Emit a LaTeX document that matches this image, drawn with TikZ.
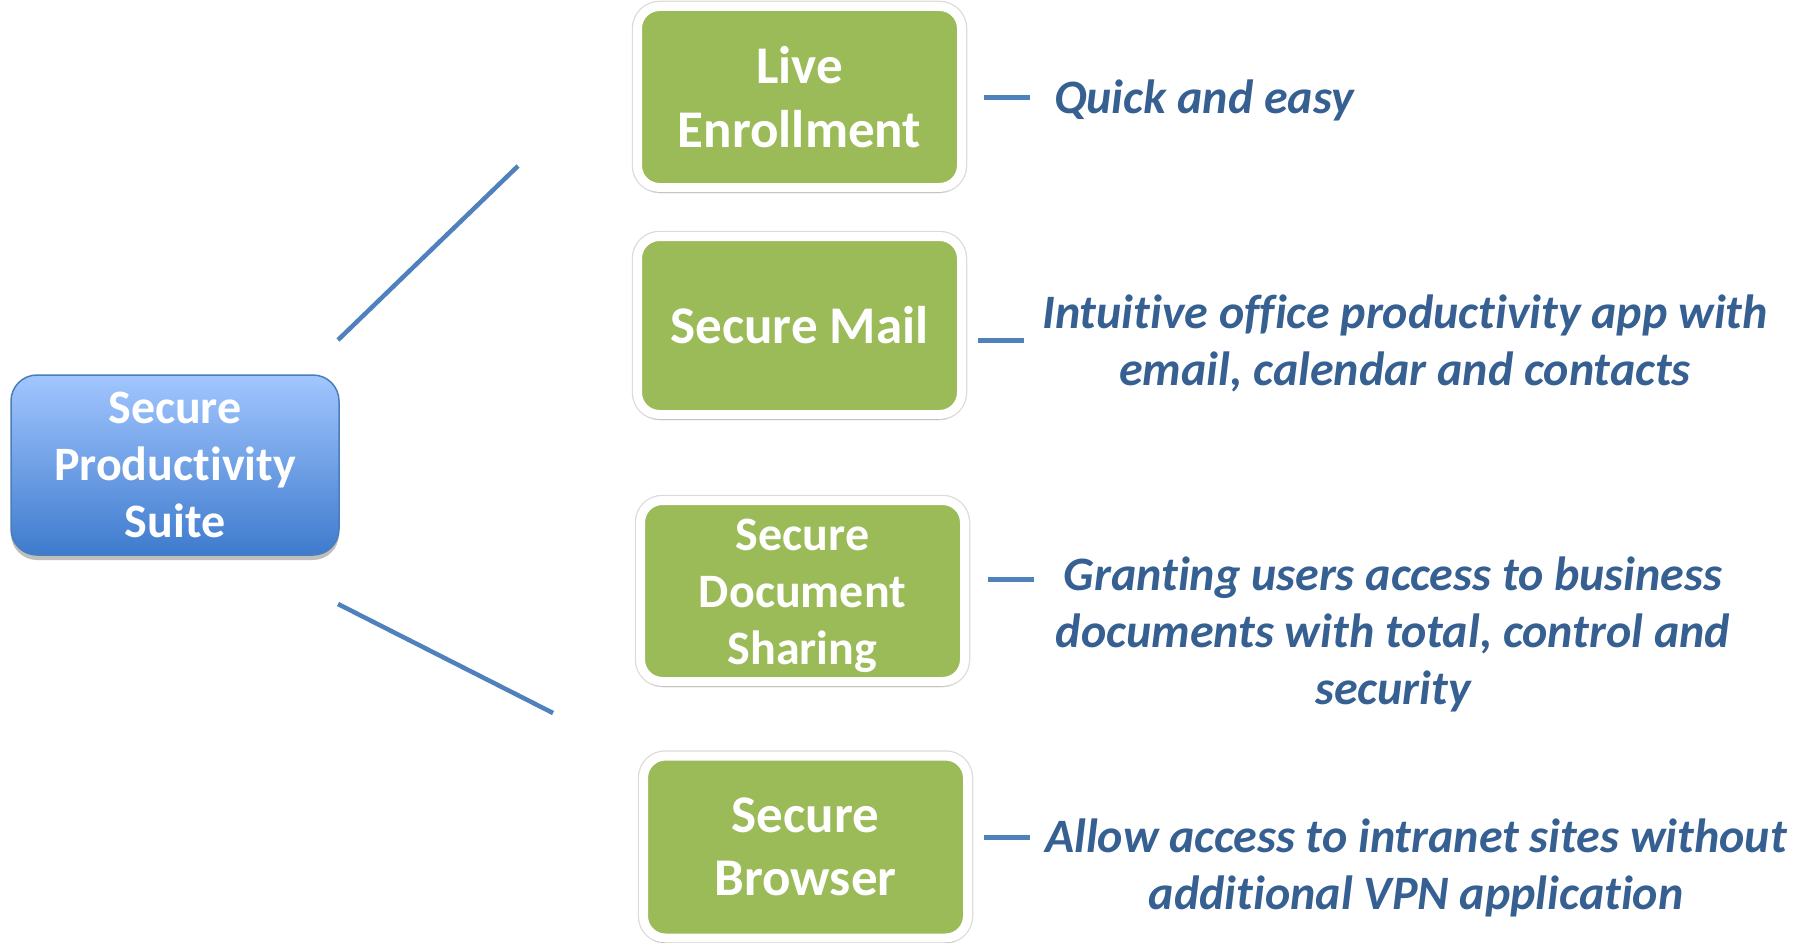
\documentclass[tikz,border=0pt]{standalone}
\usepackage{fontspec}
\setmainfont{Carlito}[Ligatures=NoCommon]
\usetikzlibrary{shadows}
\definecolor{txtblue}{HTML}{376092}
\definecolor{linkblue}{HTML}{4F81BD}
\definecolor{boxgreen}{HTML}{9BBB59}
\definecolor{suitetop}{HTML}{A2C6FF}
\definecolor{suitebot}{HTML}{3E7BCD}
\definecolor{suiteedge}{HTML}{4A7EBB}
\tikzset{
  greenbox/.style={rectangle, rounded corners=22pt, fill=boxgreen, draw=white, line width=9pt,
    preaction={draw=black!14, line width=11.5pt},
    minimum width=324pt, align=center, text=white, inner sep=0pt,
    font=\bfseries\fontsize{53}{64}\selectfont,
    drop shadow={shadow xshift=0pt, shadow yshift=-5pt, opacity=0.22, fill=black}},
  greentext/.style={align=center, text=white, inner sep=0pt,
    font=\bfseries\fontsize{48}{57}\selectfont},
  suitebox/.style={rectangle, rounded corners=26pt, top color=suitetop, bottom color=suitebot,
    draw=suiteedge, line width=1.5pt, minimum width=328pt, minimum height=180pt,
    align=center, text=white, inner sep=0pt,
    font=\bfseries\fontsize{48}{57}\selectfont,
    drop shadow={shadow xshift=0pt, shadow yshift=-5pt, opacity=0.25, fill=black}},
  desc/.style={align=center, text=txtblue, inner sep=0pt,
    font=\bfseries\itshape\fontsize{48}{57}\selectfont},
  link/.style={draw=linkblue, line width=4.5pt},
  tick/.style={draw=linkblue, line width=5pt}
}
\begin{document}
\begin{tikzpicture}[x=1pt, y=-1pt]
\useasboundingbox (0,0) rectangle (1798,942);
\fill[white] (0,0) rectangle (1798,942);

\node[suitebox] (suite) at (175,465) {Secure\\Productivity\\Suite};

\node[greenbox, minimum height=181pt] (b1) at (799.5,97) {Live\\Enrollment};
\node[greenbox, minimum height=178pt] (b2) at (799.5,325.5) {Secure Mail};
\node[greenbox, minimum height=181pt] (b3) at (802.5,591) {};
\node[greentext] (b3t) at (802.5,596) {Secure\\Document\\Sharing};
\node[greenbox, minimum height=182pt, font=\bfseries\fontsize{53}{63}\selectfont] (b4) at (805.5,847) {Secure\\Browser};

\node[desc] (d1) at (1204,100) {Quick and easy};
\node[desc] (d2) at (1405,343) {Intuitive office productivity app with\\email, calendar and contacts};
\node[desc] (d3) at (1393,634) {Granting users access to business\\documents with total, control and\\security};
\node[desc] (d4) at (1416,868) {Allow access to intranet sites without\\additional VPN application};

\coordinate (l1a) at (338,340);
\coordinate (l1b) at (518,166);
\coordinate (l2a) at (338,604);
\coordinate (l2b) at (553,713);
\draw[link] (l1a) -- (l1b);
\draw[link] (l2a) -- (l2b);

\coordinate (t1a) at (984,97);  \coordinate (t1b) at (1030,97);
\coordinate (t2a) at (978,340); \coordinate (t2b) at (1024,340);
\coordinate (t3a) at (988,579); \coordinate (t3b) at (1034,579);
\coordinate (t4a) at (984,837); \coordinate (t4b) at (1030,837);
\draw[tick] (t1a) -- (t1b);
\draw[tick] (t2a) -- (t2b);
\draw[tick] (t3a) -- (t3b);
\draw[tick] (t4a) -- (t4b);
\end{tikzpicture}
\end{document}
